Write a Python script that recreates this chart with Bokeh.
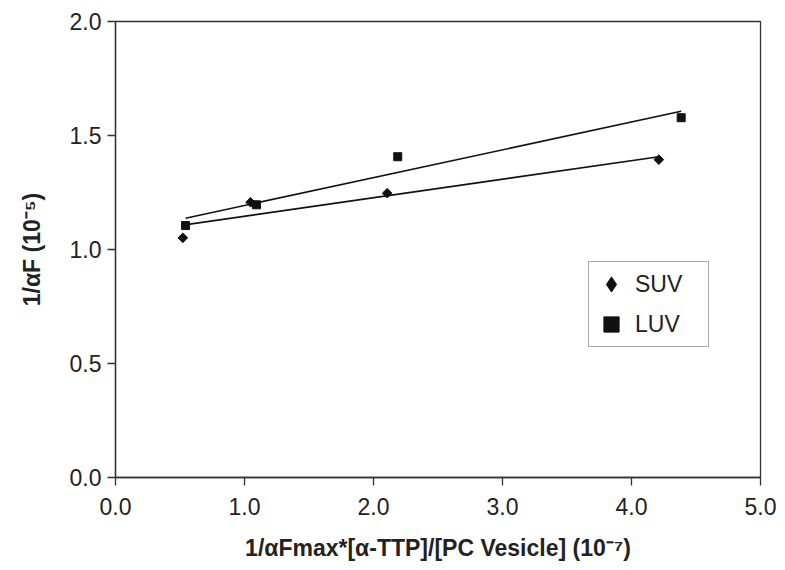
import numpy as np
from bokeh.plotting import figure
from bokeh.models import Range1d, FixedTicker, PrintfTickFormatter, Legend, LegendItem
from bokeh.embed import file_html
from bokeh.resources import INLINE

# data
suv_x = [0.522, 1.047, 2.106, 4.212]
suv_y = [1.051, 1.207, 1.247, 1.394]
luv_x = [0.543, 1.093, 2.188, 4.385]
luv_y = [1.105, 1.196, 1.407, 1.578]
x_ticks = [0.0, 1.0, 2.0, 3.0, 4.0, 5.0]
y_ticks = [0.0, 0.5, 1.0, 1.5, 2.0]
series_names = ["SUV", "LUV"]

FONT = "Liberation Sans"
INK = "#111111"

p = figure(width=785, height=570, output_backend="svg", toolbar_location=None,
           x_range=Range1d(0, 5), y_range=Range1d(0, 2),
           min_border_left=115, min_border_right=25, min_border_top=21, min_border_bottom=93)
p.grid.visible = False
p.outline_line_color = "#333333"
p.outline_line_width = 1.3
p.background_fill_color = "white"
p.border_fill_color = "white"

for ax, ticks in ((p.xaxis[0], x_ticks), (p.yaxis[0], y_ticks)):
    ax.ticker = FixedTicker(ticks=ticks)
    ax.formatter = PrintfTickFormatter(format="%.1f")
    ax.minor_tick_line_color = None
    ax.major_tick_in = 0
    ax.major_tick_out = 8
    ax.axis_line_color = "#333333"
    ax.major_tick_line_color = "#333333"
    ax.axis_line_width = 1.3
    ax.major_tick_line_width = 1.3
    ax.major_label_text_font = FONT
    ax.major_label_text_font_size = "23px"
    ax.major_label_text_color = "#222222"
    ax.axis_label_text_font = FONT
    ax.axis_label_text_font_size = "23px"
    ax.axis_label_text_font_style = "bold"
    ax.axis_label_text_color = "#222222"

p.xaxis.major_label_standoff = 12
p.yaxis.major_label_standoff = 6
p.xaxis.axis_label = "1/αFmax*[α-TTP]/[PC Vesicle] (10⁻⁷)"
p.yaxis.axis_label = "1/αF (10⁻⁵)"
p.xaxis.axis_label_standoff = 17
p.yaxis.axis_label_standoff = 22

# fitted (least-squares) lines through each series
for xs, ys in ((suv_x, suv_y), (luv_x, luv_y)):
    k, b = np.polyfit(xs, ys, 1)
    lx = [min(xs), max(xs)]
    p.line(lx, [k * v + b for v in lx], line_color=INK, line_width=1.6)

# data markers (SUV: diamond drawn as rotated square)
p.scatter(suv_x, suv_y, marker="square", angle=np.pi / 4, size=6.8,
          fill_color=INK, line_color=INK)
r_luv = p.scatter(luv_x, luv_y, marker="square", size=8,
                  fill_color=INK, line_color=INK)
# legend swatch for SUV (a point with no position, used only by the legend)
r_suv_key = p.scatter([np.nan], [np.nan], marker="diamond", fill_color=INK, line_color=INK)

legend = Legend(items=[LegendItem(label=series_names[0], renderers=[r_suv_key]),
                       LegendItem(label=series_names[1], renderers=[r_luv])],
                location=(473, 130))
legend.glyph_width = 38
legend.glyph_height = 38
legend.label_height = 38
legend.label_width = 70
legend.padding = 3
legend.spacing = 2
legend.label_standoff = 5
legend.margin = 0
legend.border_line_color = "#555555"
legend.border_line_width = 1.3
legend.label_text_font = FONT
legend.label_text_font_size = "23px"
legend.label_text_color = "#222222"
legend.background_fill_alpha = 1
p.add_layout(legend, "center")

open("out.html", "w").write(file_html(p, INLINE))
